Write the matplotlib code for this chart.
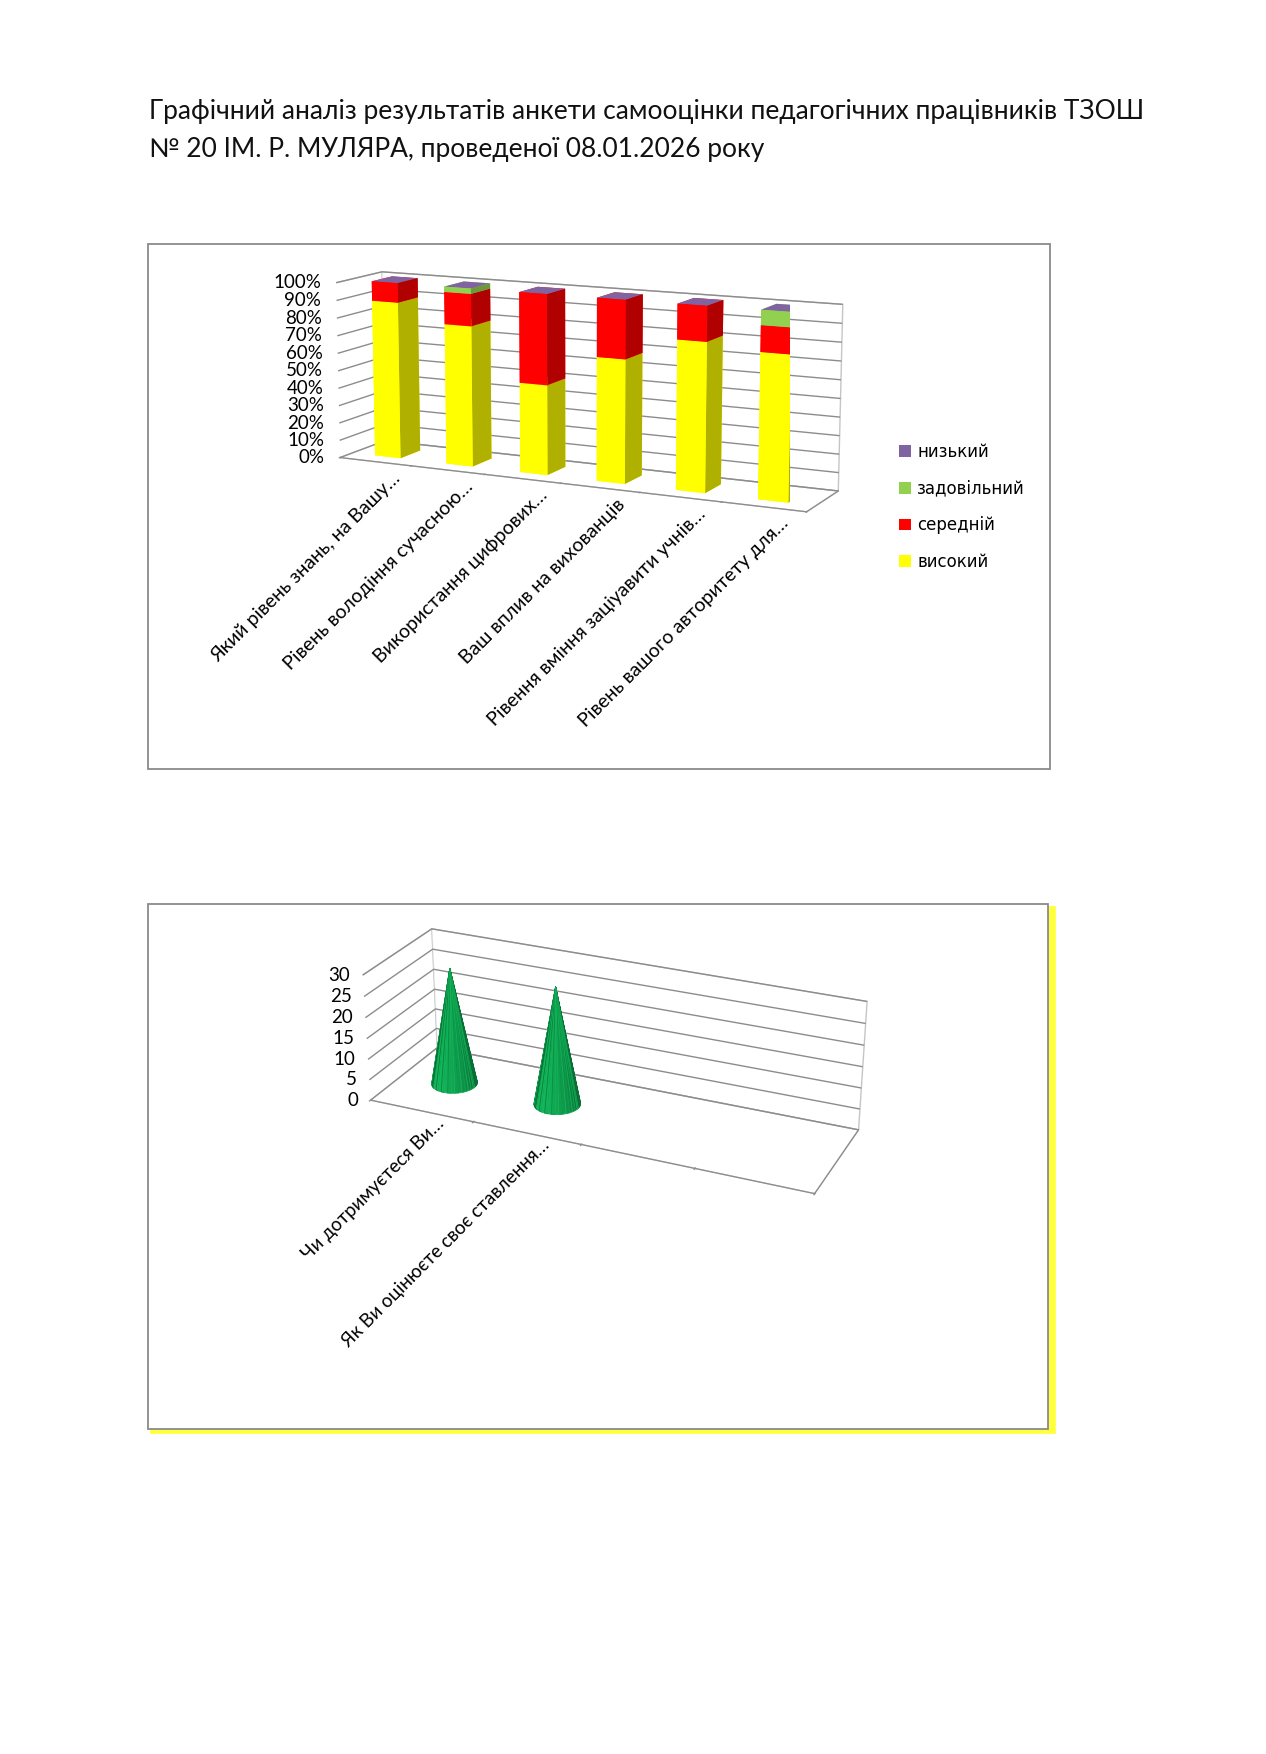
import numpy as np
import matplotlib
matplotlib.use("Agg")
import matplotlib.pyplot as plt
from matplotlib.patches import Rectangle
from matplotlib.transforms import offset_copy
from matplotlib.colors import LightSource
from mpl_toolkits.mplot3d import proj3d

# ---------------- data ----------------
title_lines = [
    "Графічний аналіз результатів анкети самооцінки педагогічних працівників ТЗОШ",
    "№ 20 ІМ. Р. МУЛЯРА, проведеної 08.01.2026 року",
]

categories1 = [
    "Який рівень знань, на Вашу…",
    "Рівень володіння сучасною…",
    "Використання цифрових…",
    "Ваш вплив на вихованців",
    "Рівення вміння заціуавити учнів…",
    "Рівень вашого авторитету для…",
]
series_names = ["високий", "середній", "задовільний", "низький"]
high = [89, 79, 50, 68, 81, 78]
middle = [11, 18, 50, 32, 19, 14]
satisf = [0, 3, 0, 0, 0, 8]
low = [0, 0, 0, 0, 0, 0]
yticks1 = [0, 10, 20, 30, 40, 50, 60, 70, 80, 90, 100]

categories2 = ["Чи дотримуєтеся Ви…", "Як Ви оцінюєте своє ставлення…"]
values2 = [28, 28]
yticks2 = [0, 5, 10, 15, 20, 25, 30]

# ---------------- style ----------------
front_cols = ["#FFFF00", "#FF0000", "#92D050", "#8064A2"]
side_cols = ["#B0B000", "#B00000", "#6B9A3B", "#5E4A7A"]
grid_col = "#8C8C8C"
LAB_FONT = ["Lato", "DejaVu Sans"]

W, H = 1266, 1754
fig = plt.figure(figsize=(W / 100, H / 100), dpi=100)
fig.patch.set_facecolor("white")


def fx(px):
    return px / W


def fy(py):
    return 1 - py / H


# title
for i, line in enumerate(title_lines):
    fig.text(fx(149), fy(111 + 39 * i), line, fontsize=19, family=LAB_FONT,
             ha="left", va="center", color="#111111")

# chart frames
fig.patches.append(Rectangle((fx(148), fy(769)), fx(1050) - fx(148), fy(244) - fy(769),
                             transform=fig.transFigure, fill=False, ec="#8A8A8A", lw=1.3, zorder=-5))
fig.patches.append(Rectangle((fx(151), fy(1432)), fx(1051) - fx(148), fy(907) - fy(1432),
                             transform=fig.transFigure, fill=True, fc="#FFFF40", ec="#FFFF40", lw=2, zorder=-6))
fig.patches.append(Rectangle((fx(148), fy(1429)), fx(1048) - fx(148), fy(904) - fy(1429),
                             transform=fig.transFigure, fill=True, fc="white", ec="#8A8A8A", lw=1.3, zorder=-5))


def style_axes3d(ax):
    for axis in (ax.xaxis, ax.yaxis, ax.zaxis):
        axis.pane.set_facecolor((1, 1, 1, 1))
        axis.pane.set_edgecolor(grid_col)
        axis.line.set_color(grid_col)
        axis.line.set_linewidth(0.9)
        axis._axinfo["tick"]["linewidth"] = {True: 0.9, False: 0.9}
    ax.xaxis.set_tick_params(color=grid_col)
    ax.zaxis.line.set_color((1, 1, 1, 0))
    ax.zaxis.set_tick_params(color=(1, 1, 1, 0))
    ax.zaxis._axinfo["tick"]["inward_factor"] = 0.0
    ax.zaxis._axinfo["tick"]["outward_factor"] = 0.0
    ax.zaxis._axinfo["grid"].update(color=grid_col, linewidth=1.0, linestyle="-")
    ax.xaxis._axinfo["grid"].update(color=(1, 1, 1, 0), linewidth=0)
    ax.yaxis._axinfo["grid"].update(color=(1, 1, 1, 0), linewidth=0)
    ax.set_yticks([])
    ax.set_xticklabels([])
    ax.set_zticklabels([])
    ax.patch.set_alpha(0)


# ---------------- chart 1 : 3D stacked 100% columns ----------------
ax1 = fig.add_axes([fx(250), fy(605), fx(900) - fx(250), fy(175) - fy(605)],
                   projection="3d", proj_type="persp", focal_length=0.9)
ax1.view_init(elev=11, azim=-64)
ax1.set_box_aspect((400, 70, 143), zoom=1.25)
n1 = len(categories1)
ax1.set_xlim(0, n1)
ax1.set_ylim(0, 1)
ax1.set_zlim(0, 100)
ax1.set_xticks(np.arange(n1 + 1))
ax1.set_zticks(yticks1)
style_axes3d(ax1)

series = [high, middle, satisf, low]
bw, bd = 0.36, 0.45
xs, ys, zs, dzs, cols = [], [], [], [], []
for i in range(n1):
    bottom = 0.0
    vals = [s[i] for s in series]
    top_idx = max(k for k, v in enumerate(vals) if v > 0)
    for k, v in enumerate(vals):
        if v <= 0:
            continue
        cap = front_cols[len(series) - 1] if k == top_idx else front_cols[k]
        xs.append(i + 0.5 - bw / 2)
        ys.append(0.5 - bd / 2)
        zs.append(bottom)
        dzs.append(v)
        # faces: -z, +z, -y, +y, -x, +x
        cols += [front_cols[k], cap, front_cols[k], front_cols[k], front_cols[k], side_cols[k]]
        bottom += v
ax1.bar3d(xs, ys, zs, bw, bd, dzs, color=cols, shade=False, edgecolor="none")

# ---------------- chart 2 : 3D cones ----------------
ax2 = fig.add_axes([fx(280), fy(1263), fx(930) - fx(280), fy(853) - fy(1263)],
                   projection="3d", proj_type="persp", focal_length=0.8)
ax2.view_init(elev=25, azim=-66)
ax2.set_box_aspect((371, 109, 108), zoom=1.23)
n2 = 4
ax2.set_xlim(0, n2)
ax2.set_ylim(0, 1)
ax2.set_zlim(0, 30)
ax2.set_xticks(np.arange(n2 + 1))
ax2.set_zticks(yticks2)
style_axes3d(ax2)

r = 0.2
theta = np.linspace(0, 2 * np.pi, 120)
frac = np.linspace(0, 1, 2)
TH, FR = np.meshgrid(theta, frac)
ls = LightSource(azdeg=215, altdeg=50)
for i, v in enumerate(values2):
    X = i + 0.5 + r * (1 - FR) * np.cos(TH)
    Y = 0.5 + r * (371 / n2) / 109 * (1 - FR) * np.sin(TH)
    Z = FR * v
    pc = ax2.plot_surface(X, Y, Z, color="#14D468", shade=True, lightsource=ls,
                          linewidth=0.6, antialiased=True)
    pc.set_edgecolor(pc.get_facecolor())

# short value-axis ticks on the front edge of the left wall
for ax, zt in ((ax1, yticks1), (ax2, yticks2)):
    for z in zt:
        ax.plot([0, 0], [0, -0.12], [z, z], color=grid_col, lw=0.9)
ax1.set_ylim(0, 1)
ax2.set_ylim(0, 1)

fig.canvas.draw()


def put_labels(ax, zt, zfmt, cats, zdx, xdx, xdy, fs):
    M = ax.get_proj()
    for z in zt:
        x2, y2, _ = proj3d.proj_transform(0, 0, z, M)
        ax.text2D(x2, y2, zfmt(z), ha="right", va="center", fontsize=13.5, family=LAB_FONT,
                  transform=offset_copy(ax.transData, fig=fig, x=zdx, y=0, units="points"))
    for i, lab in enumerate(cats):
        x2, y2, _ = proj3d.proj_transform(i + 0.5, 0, 0, M)
        ax.text2D(x2, y2, lab, ha="right", va="center", rotation=45, rotation_mode="anchor",
                  fontsize=fs, family=LAB_FONT,
                  transform=offset_copy(ax.transData, fig=fig, x=xdx, y=xdy, units="points"))


put_labels(ax1, yticks1, lambda z: f"{z}%", categories1, -11, 16, -10, 14)
put_labels(ax2, yticks2, lambda z: f"{z}", categories2, -9, 14, -7, 13.5)

# legend
handles = [Rectangle((0, 0), 1, 1, fc=front_cols[k], ec="none") for k in range(len(series))][::-1]
fig.legend(handles, series_names[::-1], loc="center left", bbox_to_anchor=(fx(884), fy(507)),
           frameon=False, handlelength=0.7, handleheight=0.7, handletextpad=0.4,
           labelspacing=1.12, prop={"family": "DejaVu Sans", "size": 12})

fig.savefig("out.png", dpi=100, facecolor="white")
